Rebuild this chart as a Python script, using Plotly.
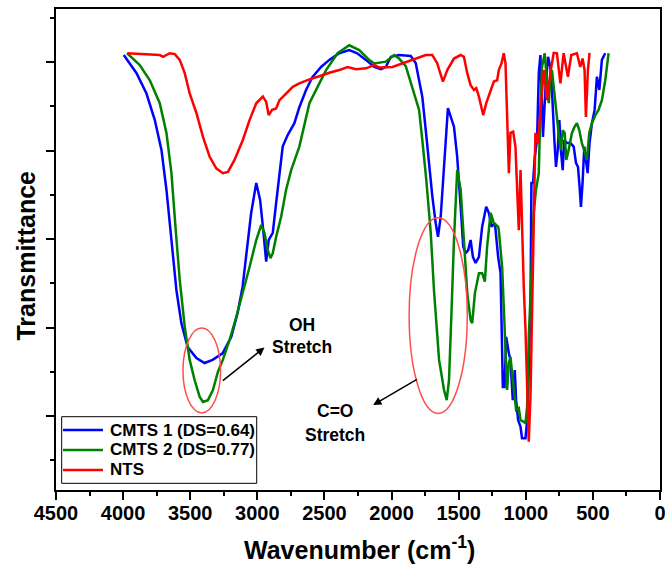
import plotly.graph_objects as go

# FTIR spectra: wavenumber (cm-1) and transmittance (arbitrary %, offset-free)
cmts1_wn = [3995, 3900, 3826, 3764, 3714, 3677, 3640, 3603, 3566, 3519, 3454, 3393, 3333, 3259,
            3194, 3147, 3110, 3073, 3046, 3008, 2979, 2954, 2934, 2915, 2885, 2860, 2835, 2811,
            2774, 2724, 2687, 2637, 2590, 2525, 2464, 2390, 2315, 2256, 2191, 2129, 2080, 2043,
            2005, 1944, 1857, 1820, 1795, 1771, 1745, 1721, 1696, 1671, 1654, 1634, 1609, 1580,
            1535, 1511, 1485, 1466, 1448, 1429, 1411, 1394, 1374, 1349, 1325, 1295, 1275, 1255,
            1230, 1206, 1188, 1176, 1171, 1158, 1146, 1126, 1114, 1097, 1082, 1072, 1057, 1039,
            1028, 1002, 990, 978, 965, 958, 946, 933, 916, 903, 891, 879, 872, 854, 834, 817,
            805, 787, 775, 762, 750, 738, 725, 713, 693, 668, 643, 626, 611, 599, 589, 577,
            564, 549, 539, 525, 507, 487, 470, 452, 433, 408]
cmts1_t = [101.6, 97.5, 92.9, 86.9, 80.1, 71.1, 59.8, 48.5, 41.0, 35.6, 33.1, 32.0, 32.7, 34.2,
           37.9, 43.3, 49.2, 58.2, 65.9, 72.7, 68.8, 61.4, 54.9, 59.8, 61.4, 68.1, 74.9, 80.9,
           83.5, 86.2, 89.8, 93.7, 96.6, 98.9, 100.5, 102.0, 102.7, 102.0, 100.5, 98.9, 98.4, 98.9,
           101.2, 101.6, 101.4, 99.8, 95.9, 92.2, 84.6, 77.2, 69.6, 63.6, 60.5, 65.0, 77.2, 89.6,
           85.4, 78.6, 67.3, 58.3, 56.8, 57.5, 59.8, 56.0, 54.6, 56.0, 62.8, 67.3, 65.9, 62.8,
           63.6, 56.0, 52.3, 37.2, 26.6, 26.6, 37.9, 34.2, 32.7, 23.6, 30.4, 23.6, 19.1, 17.6,
           15.0, 15.0, 19.1, 29.7, 44.7, 72.7, 72.7, 78.6, 82.4, 97.5, 101.6, 89.9, 83.1, 93.7, 101.2, 98.9,
           93.7, 82.4, 76.3, 80.1, 86.9, 80.1, 75.6, 82.4, 81.7, 81.7, 80.9, 77.2, 76.3, 71.8, 67.3, 72.7,
           80.9, 77.2, 74.9, 81.7, 86.2, 89.2, 96.7, 93.7, 100.5, 102.0]

cmts2_wn = [3970, 3875, 3801, 3727, 3677, 3640, 3610, 3578, 3541, 3504, 3467, 3430, 3405, 3368,
            3331, 3294, 3257, 3207, 3157, 3108, 3058, 3008, 2971, 2947, 2922, 2902, 2885, 2860,
            2823, 2786, 2748, 2687, 2612, 2551, 2488, 2402, 2315, 2241, 2167, 2129, 2043, 1981,
            1944, 1894, 1845, 1795, 1771, 1741, 1708, 1684, 1646, 1609, 1589, 1572, 1552, 1535,
            1511, 1485, 1461, 1436, 1411, 1399, 1379, 1349, 1325, 1305, 1288, 1262, 1238, 1206,
            1201, 1176, 1164, 1151, 1139, 1126, 1114, 1102, 1089, 1072, 1052, 1039, 1015, 1002,
            990, 978, 958, 941, 924, 903, 891, 879, 859, 842, 829, 817, 805, 787, 768, 750,
            738, 725, 710, 698, 681, 656, 636, 619, 601, 582, 557, 545, 527, 507, 482, 458,
            433, 408, 383]
cmts2_t = [102.0, 99.3, 95.9, 90.7, 84.0, 74.9, 62.8, 50.7, 40.2, 32.7, 28.1, 24.4, 23.2, 23.6,
           25.9, 30.0, 32.7, 37.2, 42.4, 47.8, 53.7, 59.8, 63.2, 61.4, 57.5, 55.7, 56.8, 60.5,
           65.0, 71.1, 75.6, 80.9, 90.7, 94.4, 98.2, 102.0, 103.8, 102.7, 100.5, 99.7, 100.1, 101.6,
           100.8, 99.1, 94.4, 89.2, 82.4, 73.3, 61.4, 48.5, 32.7, 25.9, 23.6, 28.1, 44.7, 59.8,
           75.6, 71.1, 59.8, 47.8, 41.7, 41.0, 47.8, 52.3, 52.3, 50.4, 58.3, 65.9, 63.6, 62.8,
           62.0, 53.7, 44.7, 33.4, 25.9, 32.0, 33.4, 29.7, 25.9, 21.4, 21.8, 19.1, 18.7, 18.4,
           22.1, 37.2, 52.3, 65.9, 71.1, 74.9, 89.9, 98.9, 102.0, 95.9, 90.7, 95.9, 98.2, 93.0, 86.9, 82.4,
           80.1, 84.6, 84.0, 77.9, 80.1, 84.0, 85.4, 86.2, 84.6, 81.7, 79.4, 77.9, 84.0, 86.2, 88.0, 89.2,
           91.4, 95.9, 102.0]

nts_wn = [3970, 3851, 3727, 3702, 3653, 3615, 3578, 3541, 3504, 3454, 3405, 3355, 3306, 3257,
          3219, 3170, 3108, 3058, 3008, 2959, 2934, 2915, 2890, 2860, 2835, 2786, 2736, 2687,
          2612, 2538, 2464, 2390, 2328, 2265, 2191, 2129, 2092, 1993, 1919, 1820, 1745, 1696,
          1659, 1639, 1617, 1585, 1535, 1485, 1461, 1436, 1411, 1386, 1369, 1349, 1329, 1317,
          1295, 1262, 1238, 1213, 1201, 1181, 1164, 1151, 1139, 1126, 1114, 1094, 1077, 1065,
          1052, 1039, 1028, 1015, 1002, 990, 978, 965, 953, 941, 928, 909, 891, 866, 842, 817,
          792, 768, 742, 718, 686, 661, 619, 594, 577, 562, 552, 537, 525]
nts_t = [102.0, 101.8, 101.6, 101.2, 102.0, 101.8, 100.5, 97.5, 92.9, 88.5, 83.1, 78.6, 76.0, 74.9,
         75.2, 77.9, 82.4, 86.9, 90.7, 92.2, 91.0, 88.0, 89.2, 89.5, 91.4, 92.9, 94.4, 95.2,
         96.1, 96.8, 97.6, 98.2, 98.9, 98.4, 98.6, 99.3, 98.8, 98.9, 99.7, 100.8, 101.6, 101.6,
         99.7, 97.7, 95.6, 98.2, 100.8, 101.6, 101.2, 97.5, 94.8, 93.7, 94.1, 92.2, 89.9, 88.0,
         90.7, 93.7, 95.6, 95.9, 98.2, 99.7, 102.0, 99.7, 88.5, 74.9, 84.0, 84.3, 80.9, 73.3,
         62.0, 75.6, 62.0, 49.2, 39.4, 24.4, 14.2, 24.4, 47.0, 69.6, 84.0, 81.7, 88.5, 98.2, 91.4, 97.5,
         102.1, 102.0, 95.2, 102.0, 96.7, 101.6, 102.0, 98.9, 100.8, 98.2, 87.6, 98.2, 102.1]

series_names = ["CMTS 1 (DS=0.64)", "CMTS 2 (DS=0.77)", "NTS"]
series_colors = ["#0000ff", "#008000", "#ff0000"]
x_ticks = [4500, 4000, 3500, 3000, 2500, 2000, 1500, 1000, 500, 0]

FONT = "Arial, Liberation Sans, sans-serif"

fig = go.Figure()
for name, color, wn, t in zip(series_names, series_colors,
                              [cmts1_wn, cmts2_wn, nts_wn], [cmts1_t, cmts2_t, nts_t]):
    fig.add_trace(go.Scatter(x=wn, y=t, mode="lines", name=name, showlegend=False,
                             line=dict(color=color, width=2.5)))

# band markers
fig.add_shape(type="circle", xref="x", yref="y", x0=3554, x1=3274, y0=20.7, y1=39.9,
              line=dict(color="#ff4d4d", width=1.5))
fig.add_shape(type="circle", xref="x", yref="y", x0=1869, x1=1436, y0=20.6, y1=64.8,
              line=dict(color="#ff4d4d", width=1.5))

arrow = dict(showarrow=True, arrowhead=2, arrowsize=1.1, arrowwidth=1.5, arrowcolor="black",
             axref="x", ayref="y", text="", standoff=0, startstandoff=0)
fig.add_annotation(x=2947, y=35.5, ax=3268, ay=27.75, **arrow)
fig.add_annotation(x=2137, y=22.5, ax=1800, ay=28.5, **arrow)

lbl = dict(showarrow=False, font=dict(family=FONT, size=17.5, color="black", weight="bold"),
           xanchor="center", yanchor="middle")
fig.add_annotation(x=2667, y=40.6, text="OH", **lbl)
fig.add_annotation(x=2667, y=35.7, text="Stretch", **lbl)
fig.add_annotation(x=2419, y=21.1, text="C=O", **lbl)
fig.add_annotation(x=2419, y=15.7, text="Stretch", **lbl)

# legend box with line samples
fig.add_shape(type="rect", xref="paper", yref="paper", x0=0.0094, x1=0.3323, y0=0.0139, y1=0.1524,
              line=dict(color="black", width=1), fillcolor="white", layer="above")
legend_rows = [0.1247, 0.0832, 0.0416]
for name, color, yrow in zip(series_names, series_colors, legend_rows):
    fig.add_shape(type="line", xref="paper", yref="paper", x0=0.0116, x1=0.0778, y0=yrow, y1=yrow,
                  line=dict(color=color, width=2.5))
    fig.add_annotation(xref="paper", yref="paper", x=0.0856, y=yrow, text=name, showarrow=False,
                       xanchor="left", yanchor="middle",
                       font=dict(family=FONT, size=17, color="black", weight="bold"))

# axis titles
fig.add_annotation(xref="paper", yref="paper", x=0.503, y=-0.12,
                   text="Wavenumber (cm<sup>-1</sup>)", showarrow=False,
                   font=dict(family=FONT, size=25, color="black", weight="bold"),
                   xanchor="center", yanchor="middle")
fig.add_annotation(xref="paper", yref="paper", x=-0.05, y=0.487, text="Transmittance",
                   textangle=-90, showarrow=False,
                   font=dict(family=FONT, size=25, color="black", weight="bold"),
                   xanchor="center", yanchor="middle")

fig.update_xaxes(range=[4500, 0], tickvals=x_ticks, ticks="outside", ticklen=8, tickwidth=1.5,
                 tickcolor="black", showline=True, linecolor="black", linewidth=1.5, mirror=True,
                 showgrid=False, zeroline=False, automargin=False, ticklabelstandoff=-4,
                 ticklabeloverflow="allow",
                 tickfont=dict(family=FONT, size=20, color="black", weight="bold"),
                 minor=dict(ticks="outside", ticklen=4, tickwidth=1.5, tickcolor="black",
                            dtick=250, showgrid=False))
fig.update_yaxes(range=[3.3, 112.0], tick0=0, dtick=20, ticks="outside", ticklen=8, tickwidth=1.5,
                 tickcolor="black", showticklabels=False, showline=True, linecolor="black",
                 linewidth=1.5, mirror=True, showgrid=False, zeroline=False, automargin=False,
                 minor=dict(ticks="outside", ticklen=4, tickwidth=1.5, tickcolor="black",
                            dtick=10, tick0=0, showgrid=False))

fig.update_layout(
    width=665, height=565,
    margin=dict(l=56, r=5, t=9, b=75),
    plot_bgcolor="white", paper_bgcolor="white",
    showlegend=False,
)

fig.write_html("out.html")
